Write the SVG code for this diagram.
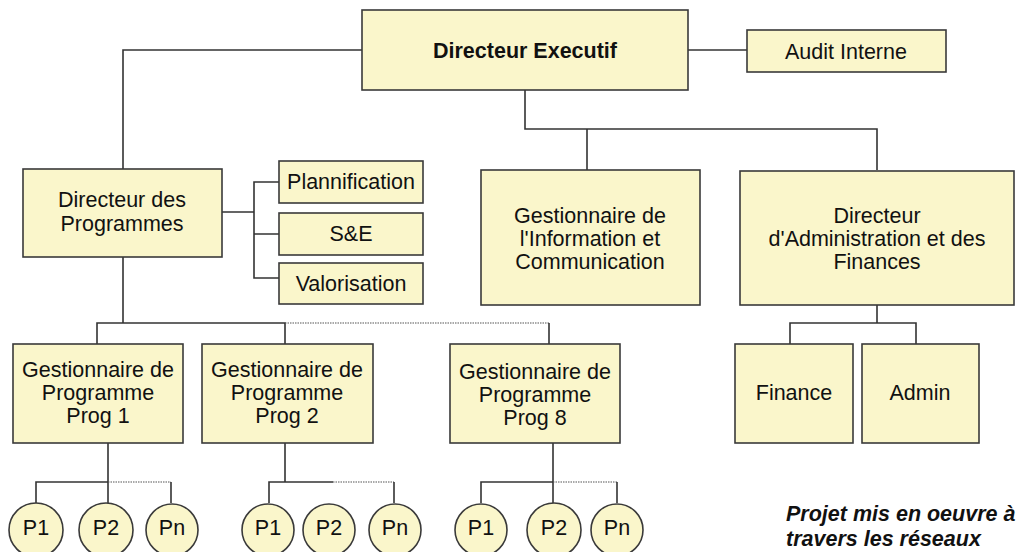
<svg xmlns="http://www.w3.org/2000/svg" width="1021" height="552" viewBox="0 0 1021 552">
<style>
.box{fill:#FAF6CB;stroke:#3a3a3a;stroke-width:1.6}
.t{font-family:"Liberation Sans",Arial,sans-serif;font-size:21.5px;fill:#111;text-anchor:middle}
.b{font-weight:bold}
.ln{fill:none;stroke:#333;stroke-width:1.6}
.dot{fill:none;stroke:#555;stroke-width:1.2;stroke-dasharray:1.5 1}
.note{font-family:"Liberation Sans",Arial,sans-serif;font-size:21.5px;font-weight:bold;font-style:italic;fill:#111}
</style>
<rect width="1021" height="552" fill="#fff"/>
<g id="connectors">
<path class="ln" d="M362 50H123V169"/>
<path class="ln" d="M688 50H747"/>
<path class="ln" d="M525 90V129H877V170M587 129V170"/>
<path class="ln" d="M222 212H254M279 182H254V278H279M254 234H279"/>
<path class="ln" d="M877 305V323M790 344V323H916V344"/>
<path class="ln" d="M123 257V323M97 344V323H285V344"/>
<path class="dot" d="M285 323H549"/>
<path class="ln" d="M549 323V344"/>
<path class="ln" d="M108 443V503M36 503V482H108"/>
<path class="dot" d="M108 482H171"/>
<path class="ln" d="M171 482V503"/>
<path class="ln" d="M285 443V482M269 503V482H333"/>
<path class="dot" d="M333 482H394"/>
<path class="ln" d="M394 482V503"/>
<path class="ln" d="M553 443V503M481 503V482H553"/>
<path class="dot" d="M553 482H617"/>
<path class="ln" d="M617 482V503"/>
</g>
<g id="directeur-executif"><rect class="box" x="362" y="10" width="326" height="80"/><text class="t b" x="525" y="58">Directeur Executif</text></g>
<g id="audit-interne"><rect class="box" x="747" y="30" width="199" height="42"/><text class="t" x="846" y="59">Audit Interne</text></g>
<g id="directeur-programmes"><rect class="box" x="23" y="169" width="199" height="88"/><text class="t" x="122" y="207">Directeur des</text><text class="t" x="122" y="231">Programmes</text></g>
<g id="plannification"><rect class="box" x="279" y="161" width="144" height="42"/><text class="t" x="351" y="189">Plannification</text></g>
<g id="se"><rect class="box" x="279" y="213" width="144" height="42"/><text class="t" x="351" y="241">S&amp;E</text></g>
<g id="valorisation"><rect class="box" x="279" y="263" width="144" height="41"/><text class="t" x="351" y="291">Valorisation</text></g>
<g id="gic"><rect class="box" x="481" y="170" width="219" height="135"/><text class="t" x="590" y="223">Gestionnaire de</text><text class="t" x="590" y="246">l'Information et</text><text class="t" x="590" y="269">Communication</text></g>
<g id="daf"><rect class="box" x="740" y="171" width="274" height="134"/><text class="t" x="877" y="223">Directeur</text><text class="t" x="877" y="246">d'Administration et des</text><text class="t" x="877" y="269">Finances</text></g>
<g id="finance"><rect class="box" x="735" y="344" width="118" height="99"/><text class="t" x="794" y="400">Finance</text></g>
<g id="admin"><rect class="box" x="862" y="344" width="117" height="99"/><text class="t" x="920" y="400">Admin</text></g>
<g id="gp1"><rect class="box" x="13" y="344" width="170" height="99"/><text class="t" x="98" y="377">Gestionnaire de</text><text class="t" x="98" y="400">Programme</text><text class="t" x="98" y="423">Prog 1</text></g>
<g id="gp2"><rect class="box" x="202" y="344" width="171" height="99"/><text class="t" x="287" y="377">Gestionnaire de</text><text class="t" x="287" y="400">Programme</text><text class="t" x="287" y="423">Prog 2</text></g>
<g id="gp8"><rect class="box" x="450" y="344" width="170" height="99"/><text class="t" x="535" y="379">Gestionnaire de</text><text class="t" x="535" y="402">Programme</text><text class="t" x="535" y="425">Prog 8</text></g>
<g id="gp1-p1"><circle class="box" cx="36" cy="530" r="27"/><text class="t" x="36" y="535">P1</text></g>
<g id="gp1-p2"><circle class="box" cx="106" cy="530" r="27"/><text class="t" x="106" y="535">P2</text></g>
<g id="gp1-pn"><circle class="box" cx="172" cy="530" r="26"/><text class="t" x="172" y="535">Pn</text></g>
<g id="gp2-p1"><circle class="box" cx="268" cy="530" r="26"/><text class="t" x="268" y="535">P1</text></g>
<g id="gp2-p2"><circle class="box" cx="329" cy="530" r="26"/><text class="t" x="329" y="535">P2</text></g>
<g id="gp2-pn"><circle class="box" cx="395" cy="530" r="26"/><text class="t" x="395" y="535">Pn</text></g>
<g id="gp8-p1"><circle class="box" cx="481" cy="530" r="26"/><text class="t" x="481" y="535">P1</text></g>
<g id="gp8-p2"><circle class="box" cx="554" cy="530" r="27"/><text class="t" x="554" y="535">P2</text></g>
<g id="gp8-pn"><circle class="box" cx="617" cy="530" r="26"/><text class="t" x="617" y="535">Pn</text></g>
<g id="note"><text class="note" x="786" y="521">Projet mis en oeuvre à</text><text class="note" x="786" y="546">travers les réseaux</text></g>
</svg>
